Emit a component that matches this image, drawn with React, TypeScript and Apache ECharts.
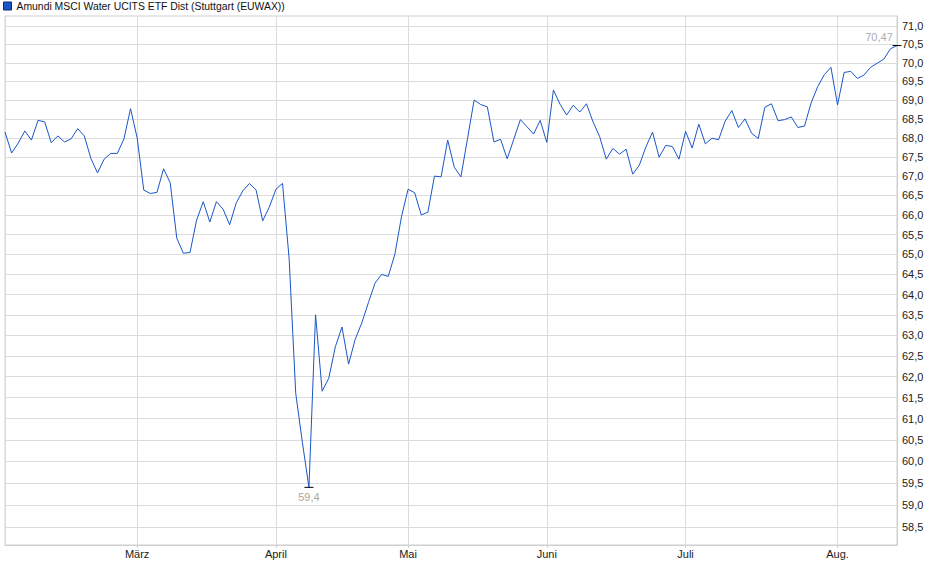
import React, { useEffect, useRef } from 'react';
import * as echarts from 'echarts';

const seriesName = 'Amundi MSCI Water UCITS ETF Dist (Stuttgart (EUWAX))';

// closing prices per trading day, grouped by month (2025)
const feb = [68.15, 67.6, 67.86, 68.18, 67.94, 68.46, 68.42, 67.87, 68.05, 67.89, 67.97, 68.24, 68.05, 67.46, 67.08, 67.44, 67.59, 67.59, 67.97, 68.77];
const mar = [68.0, 66.64, 66.55, 66.58, 67.19, 66.83, 65.41, 65.03, 65.05, 65.87, 66.34, 65.82, 66.34, 66.15, 65.75, 66.31, 66.62, 66.81, 66.64, 65.85, 66.2];
const apr = [66.66, 66.81, 64.9, 61.6, 60.45, 59.4, 63.5, 61.65, 61.96, 62.72, 63.2, 62.3, 62.9, 63.3, 63.8, 64.28, 64.5, 64.45, 65.0, 65.95];
const may = [66.66, 66.57, 66.0, 66.07, 67.0, 66.98, 67.94, 67.23, 66.98, 67.98, 69.0, 68.88, 68.82, 67.89, 67.96, 67.45, 67.96, 68.48, 68.29, 68.1, 68.46];
const jun = [67.88, 69.27, 68.89, 68.6, 68.86, 68.68, 68.9, 68.42, 68.03, 67.44, 67.72, 67.57, 67.7, 67.05, 67.28, 67.76, 68.15, 67.49, 67.8, 67.77, 67.44];
const jul = [68.17, 67.73, 68.36, 67.84, 67.99, 67.95, 68.44, 68.72, 68.27, 68.5, 68.12, 67.98, 68.81, 68.9, 68.45, 68.48, 68.55, 68.27, 68.31, 68.92, 69.36, 69.68, 69.88];
const aug = [68.87, 69.74, 69.77, 69.58, 69.67, 69.88, 69.99, 70.1, 70.38, 70.47];

const months = [feb, mar, apr, may, jun, jul, aug];
const monthLabels = ['', 'März', 'April', 'Mai', 'Juni', 'Juli', 'Aug.'];

const yTicks = [58.5, 59, 59.5, 60, 60.5, 61, 61.5, 62, 62.5, 63, 63.5, 64, 64.5, 65, 65.5, 66, 66.5, 67, 67.5, 68, 68.5, 69, 69.5, 70, 70.5, 71];
const yMin = 58.09;
const yMax = 71.28;

const font = '"Liberation Sans", Arial, sans-serif';
const lineColor = '#1a56c8';

const fmt = (v: number) => String(Number(v.toFixed(2))).replace('.', ',');

export default function App() {
  const chartRef = useRef<HTMLDivElement>(null);

  useEffect(() => {
    document.body.style.margin = '0';
    if (!chartRef.current) return;
    const chart = echarts.init(chartRef.current, undefined, { renderer: 'svg' });

    const categories: string[] = [];
    const starts: Record<number, string> = {};
    const prices: number[] = [];
    months.forEach((m, mi) => {
      starts[categories.length] = monthLabels[mi];
      m.forEach((v, d) => {
        categories.push(`${mi}-${d + 1}`);
        prices.push(v);
      });
    });
    const isStart = (i: number) => starts[i] !== undefined;
    const hasLabel = (i: number) => !!starts[i];
    const logTicks = yTicks.map(Math.log);

    chart.setOption({
      animation: false,
      textStyle: { fontFamily: font },
      legend: {
        left: 3,
        top: 1,
        padding: 0,
        itemWidth: 8,
        itemHeight: 8,
        itemGap: 4,
        selectedMode: false,
        textStyle: { fontSize: 10.4, color: '#111', fontFamily: font },
        data: [
          {
            name: seriesName,
            icon: 'rect',
            itemStyle: { color: lineColor, borderColor: '#0b2a6e', borderWidth: 1 },
          },
        ],
      },
      grid: {
        left: 5,
        right: 43,
        top: 16,
        bottom: 34,
        show: true,
        borderColor: '#cfcfcf',
        borderWidth: 1,
      },
      xAxis: {
        type: 'category',
        data: categories,
        boundaryGap: false,
        axisLine: { lineStyle: { color: '#cfcfcf' } },
        axisTick: {
          show: true,
          length: 3,
          interval: (i: number) => hasLabel(i),
          lineStyle: { color: '#cfcfcf' },
        },
        axisLabel: {
          interval: (i: number) => hasLabel(i),
          formatter: (_v: string, i: number) => starts[i] || '',
          color: '#222',
          fontSize: 11,
          margin: 3,
        },
        splitLine: {
          show: true,
          interval: (i: number) => isStart(i),
          lineStyle: { color: '#dcdcdc' },
        },
      },
      yAxis: {
        type: 'value',
        position: 'right',
        min: Math.log(yMin),
        max: Math.log(yMax),
        axisLine: { show: true, lineStyle: { color: '#cfcfcf' } },
        axisTick: { show: false, customValues: logTicks },
        axisLabel: {
          customValues: logTicks,
          formatter: (v: number) => Math.exp(v).toFixed(1).replace('.', ','),
          color: '#222',
          fontSize: 11,
          margin: 5,
        },
        splitLine: { show: true, lineStyle: { color: '#dcdcdc' } },
      },
      series: [
        {
          name: seriesName,
          type: 'line',
          data: prices.map(Math.log),
          symbol: 'none',
          lineStyle: { color: lineColor, width: 1 },
          itemStyle: { color: lineColor },
          markPoint: {
            symbol: 'rect',
            symbolSize: [9, 1],
            silent: true,
            itemStyle: { color: '#000' },
            label: {
              fontSize: 11,
              fontFamily: font,
              formatter: (p: any) => fmt(Math.exp(p.value)),
            },
            data: [
              { type: 'min', label: { position: 'bottom', distance: 4, color: '#b3a593' } },
              { type: 'max', label: { position: 'top', distance: 3, offset: [-18, 0], color: '#a9aeb8' } },
            ],
          },
        },
      ],
    });

    return () => chart.dispose();
  }, []);

  return <div ref={chartRef} style={{ width: '940px', height: '579px' }} />;
}
